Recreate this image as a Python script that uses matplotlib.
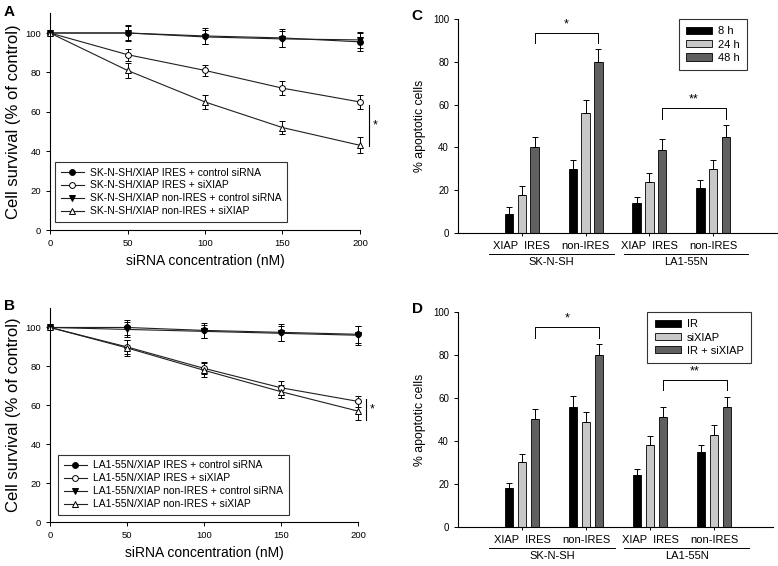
import matplotlib
matplotlib.use("Agg")
import matplotlib.pyplot as plt
from matplotlib.lines import Line2D
import numpy as np

plt.rcParams['font.family'] = ['Liberation Sans', 'DejaVu Sans']

# survival curves (panels A and B)
conc = [0, 50, 100, 150, 200]

a_ires_ctrl = [100, 100, 98.5, 97.5, 95.5]
a_ires_ctrl_err = [0, 4, 4, 4.5, 4.5]
a_ires_si = [100, 89, 81, 72, 65]
a_ires_si_err = [0, 3, 3, 3.5, 3.5]
a_non_ctrl = [100, 100, 98, 97, 96.5]
a_non_ctrl_err = [0, 3.5, 3.5, 4, 4]
a_non_si = [100, 81, 65, 52, 43]
a_non_si_err = [0, 4, 3.5, 3.5, 4]

b_ires_ctrl = [100, 100, 98.5, 97.5, 96.5]
b_ires_ctrl_err = [0, 4, 4, 4.5, 4.5]
b_ires_si = [100, 90, 79, 69, 62]
b_ires_si_err = [0, 3.5, 3, 3.5, 3]
b_non_ctrl = [100, 99, 98, 97, 96]
b_non_ctrl_err = [0, 4, 3.5, 4, 5]
b_non_si = [100, 89.5, 78, 67, 57]
b_non_si_err = [0, 4, 3.5, 3.5, 4.5]

a_labels = ['SK-N-SH/XIAP IRES + control siRNA', 'SK-N-SH/XIAP IRES + siXIAP',
            'SK-N-SH/XIAP non-IRES + control siRNA', 'SK-N-SH/XIAP non-IRES + siXIAP']
b_labels = ['LA1-55N/XIAP IRES + control siRNA', 'LA1-55N/XIAP IRES + siXIAP',
            'LA1-55N/XIAP non-IRES + control siRNA', 'LA1-55N/XIAP non-IRES + siXIAP']

# apoptosis bars (panels C and D)
bar_ticks = ['XIAP  IRES', 'non-IRES', 'XIAP  IRES', 'non-IRES']
cell_lines = ['SK-N-SH', 'LA1-55N']

c_series = ['8 h', '24 h', '48 h']
c_vals = [[9, 30, 14, 21], [18, 56, 24, 30], [40, 80, 39, 45]]
c_errs = [[3, 4, 3, 4], [4, 6, 4, 4.2], [5, 6, 5, 5.3]]

d_series = ['IR', 'siXIAP', 'IR + siXIAP']
d_vals = [[18, 56, 24, 35], [30, 49, 38, 43], [50, 80, 51, 56]]
d_errs = [[2.4, 5, 3, 3], [4, 4.6, 4.2, 4.3], [5, 5, 4.6, 4.6]]

bar_colors = ['#000000', '#c8c8c8', '#606060']


def line_panel(ax, data, labels, sig, leg_anchor, letter):
    styles = [('o', 'black'), ('o', 'white'), ('v', 'black'), ('^', 'white')]
    handles = []
    for (y, e), lab, (m, fc) in zip(data, labels, styles):
        ax.errorbar(conc, y, yerr=e, color='#202020', lw=0.8, marker=m, ms=4.2,
                    mfc=fc, mec='black', mew=0.7, capsize=2.5, elinewidth=0.7,
                    capthick=0.7, ecolor='black', clip_on=False)
        handles.append(Line2D([], [], color='#202020', lw=0.8, marker=m, ms=4.2,
                              mfc=fc, mec='black', mew=0.7, label=lab))
    ax.set_xlim(0, 200)
    ax.set_ylim(0, 110)
    ax.set_xticks([0, 50, 100, 150, 200])
    ax.set_yticks([0, 20, 40, 60, 80, 100])
    ax.tick_params(direction='out', length=3, width=0.7, labelsize=6.8)
    for s in ['top', 'right']:
        ax.spines[s].set_visible(False)
    for s in ['left', 'bottom']:
        ax.spines[s].set_linewidth(0.8)
    ax.set_xlabel('siRNA concentration (nM)', fontsize=10, labelpad=4)
    ax.set_ylabel('Cell survival (% of control)', fontsize=12, labelpad=3)
    x_line, y0, y1, x_star = sig
    ax.plot([x_line, x_line], [y0, y1], color='black', lw=0.8, clip_on=False)
    ax.text(x_star, (y0 + y1) / 2, '*', fontsize=9, va='center', ha='left')
    leg = ax.legend(handles=handles, loc='lower left', bbox_to_anchor=leg_anchor,
                    fontsize=7.5, frameon=True, fancybox=False, edgecolor='black',
                    handlelength=2.2, borderpad=0.55, labelspacing=0.28,
                    handletextpad=0.6, borderaxespad=0)
    leg.get_frame().set_linewidth(0.8)
    ax.text(-0.15, 1.04, letter, transform=ax.transAxes, fontsize=11,
            fontweight='bold', va='top', ha='left')


def bar_panel(ax, vals, errs, series, xmax, brackets, leg_anchor, letter):
    x = np.array([1, 2, 3, 4])
    offsets = [-0.2, 0.0, 0.2]
    for v, e, s, c, off in zip(vals, errs, series, bar_colors, offsets):
        ax.bar(x + off, v, width=0.13, color=c, edgecolor='black', lw=0.6, label=s,
               yerr=[np.zeros(len(e)), e], capsize=2.5,
               error_kw=dict(elinewidth=0.7, capthick=0.7, ecolor='black'))
    ax.set_xlim(0, xmax)
    ax.set_ylim(0, 100)
    ax.set_yticks([0, 20, 40, 60, 80, 100])
    ax.set_xticks(x)
    ax.set_xticklabels(bar_ticks, fontsize=8)
    ax.tick_params(axis='y', direction='out', length=3, width=0.7, labelsize=7)
    ax.tick_params(axis='x', direction='out', length=2.5, width=0.7, pad=3)
    for s in ['top', 'right']:
        ax.spines[s].set_visible(False)
    for s in ['left', 'bottom']:
        ax.spines[s].set_linewidth(0.8)
    ax.set_ylabel('% apoptotic cells', fontsize=8.8, labelpad=5)
    trans = ax.get_xaxis_transform()
    spans = [(0.48, 2.45), (2.6, 4.55)]
    for (x0, x1), name in zip(spans, cell_lines):
        ax.plot([x0, x1], [-0.098, -0.098], color='black', lw=0.7,
                transform=trans, clip_on=False)
        ax.text((x0 + x1) / 2, -0.112, name, transform=trans, fontsize=8,
                ha='center', va='top')
    for (x0, x1, ytop, ylow, stars) in brackets:
        ax.plot([x0, x0, x1, x1], [ylow, ytop, ytop, ylow], color='black', lw=0.7)
        ax.text((x0 + x1) / 2, ytop + 1.2, stars, fontsize=9, ha='center', va='bottom')
    leg = ax.legend(loc='upper right', bbox_to_anchor=leg_anchor, fontsize=8,
                    frameon=True, fancybox=False, edgecolor='black',
                    handlelength=2.4, handleheight=0.6, labelspacing=0.3,
                    handletextpad=0.5, borderpad=0.65, borderaxespad=0)
    leg.get_frame().set_linewidth(0.8)
    ax.text(-0.145, 1.045, letter, transform=ax.transAxes, fontsize=11,
            fontweight='bold', va='top', ha='left')


fig = plt.figure(figsize=(7.78, 5.66), dpi=100)

axA = fig.add_axes([0.0643, 0.5936, 0.3984, 0.3829])
line_panel(axA, [(a_ires_ctrl, a_ires_ctrl_err), (a_ires_si, a_ires_si_err),
                 (a_non_ctrl, a_non_ctrl_err), (a_non_si, a_non_si_err)],
           a_labels, (205.8, 63.6, 42.7, 208.5), (0.016, 0.037), 'A')

axB = fig.add_axes([0.0643, 0.0777, 0.3959, 0.3781])
line_panel(axB, [(b_ires_ctrl, b_ires_ctrl_err), (b_ires_si, b_ires_si_err),
                 (b_non_ctrl, b_non_ctrl_err), (b_non_si, b_non_si_err)],
           b_labels, (205.2, 63.2, 52.5, 207.5), (0.026, 0.033), 'B')

axC = fig.add_axes([0.5887, 0.5883, 0.41, 0.3781])
bar_panel(axC, c_vals, c_errs, c_series, 5.0,
          [(1.2, 2.2, 93.3, 88.6, '*'), (3.2, 4.2, 58.2, 53.5, '**')],
          (0.906, 1.0), 'C')

axD = fig.add_axes([0.5887, 0.0689, 0.4049, 0.3799])
bar_panel(axD, d_vals, d_errs, d_series, 4.92,
          [(1.2, 2.2, 92.9, 87.9, '*'), (3.2, 4.2, 68.2, 63.9, '**')],
          (0.93, 1.0), 'D')

fig.savefig('out.png', dpi=100)
